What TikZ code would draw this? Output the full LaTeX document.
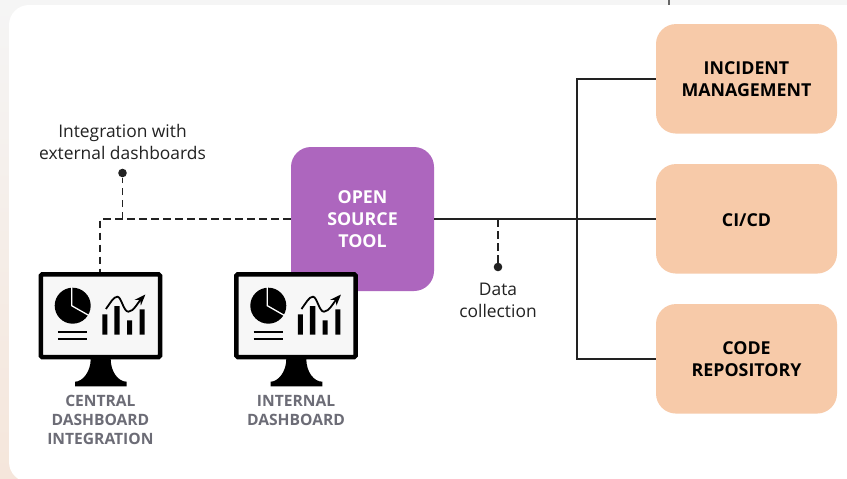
\documentclass[tikz,border=0pt]{standalone}
\usepackage{fontspec}
\setmainfont{Open Sans}
\usetikzlibrary{arrows.meta}
\definecolor{toolpurple}{HTML}{AD66BE}
\definecolor{boxpeach}{HTML}{F7CAA9}
\definecolor{capgray}{HTML}{6C6C76}
\definecolor{wirecol}{HTML}{222222}
\definecolor{backtop}{HTML}{F5F5F5}
\definecolor{backlow}{HTML}{F5E6DB}
\tikzset{
    >=Stealth,
    toolbox/.style={rectangle,fill=toolpurple,text=white,rounded corners=20pt,minimum width=143pt,minimum height=144pt,align=center,font=\fontsize{17.8}{22}\selectfont\bfseries,execute at begin node=\rule{0pt}{16pt}},
    source/.style={rectangle,fill=boxpeach,text=black,rounded corners=20pt,minimum width=181pt,minimum height=109.5pt,align=center,font=\fontsize{17.8}{22}\selectfont\bfseries,execute at begin node=\rule{0pt}{16pt}},
    screen/.style={rectangle,draw=black,fill=white!97!black,line width=4.5pt,rounded corners=1.5pt,minimum width=119.3pt,minimum height=82.8pt},
    note/.style={align=center,text=wirecol,font=\fontsize{17.4}{22}\selectfont},
    caption/.style={align=center,text=capgray,font=\fontsize{15.6}{19}\selectfont\bfseries},
    dot/.style={circle,fill=wirecol,inner sep=0pt,minimum size=8.6pt},
    wire/.style={line width=1.9pt,draw=wirecol},
    dashwire/.style={line width=1.9pt,draw=wirecol,dash pattern=on 7.5pt off 4.5pt},
}
% monitor icon, #1 is the screen node and #2 the middle of its top edge
\newcommand{\dashicon}[2]{
    \begin{scope}[shift={(#2)}]
        \fill[black] (-9.7,87) .. controls (-9.7,100) and (-18,109.7) .. (-25.4,109.7) -- (-25.4,114.3) -- (26.3,114.3) -- (26.3,109.7) .. controls (18,109.7) and (10.3,100) .. (10.3,87) -- cycle;
        \node[screen] (#1) at (0,43.7) {};
        \fill[black] (-27.7,33.7) circle (18);
        \draw[white,line width=1.3pt] (-28.7,15) -- (-28.7,33.7) -- (-11.5,43.5);
        \draw[black,line width=2pt] (-42.5,60) -- (-13,60) (-42.5,66.5) -- (-13,66.5);
        \fill[black] (1.9,42.3) rectangle (6.9,62.7) (13.9,34) rectangle (19.3,62.7) (26.6,48.3) rectangle (31.6,62.7) (39.3,37.3) rectangle (44.3,62.7);
        \draw[->,black,line width=1.8pt] (5.5,37) .. controls (10,31) and (13,24.7) .. (17,24.7) .. controls (21,24.7) and (23,39.7) .. (28,39.7) .. controls (33,39.7) and (38,30) .. (45,22.5);
    \end{scope}
}

\begin{document}
\begin{tikzpicture}[x=1pt,y=-1pt]
    \useasboundingbox (0,0) rectangle (847,479);
    \shade[top color=backtop,bottom color=backlow] (0,0) rectangle (847,479);
    \fill[white,rounded corners=20pt] (9,5) rectangle (867,482);

    \node[toolbox] (tool) at (362.5,219) {OPEN\\SOURCE\\TOOL};
    \node[source] (incident) at (746.5,78.8) {INCIDENT\\MANAGEMENT};
    \node[source] (cicd) at (746.5,218.8) {CI/CD};
    \node[source] (repo) at (746.5,358.8) {CODE\\REPOSITORY};

    \coordinate (busup) at (577,78.8);
    \coordinate (busdown) at (577,358.8);
    \coordinate (collect) at (498,219);
    \coordinate (corner) at (100.4,219);
    \coordinate (branch) at (122.5,219);
    \coordinate (topline) at (669,0);
    \coordinate (topend) at (669,5);

    \draw[wire] (tool.east |- cicd.west) -- (cicd.west);
    \draw[wire] (incident.west) -- (busup) -- (busdown) -- (repo.west);
    \draw[draw=black!60,line width=1.4pt] (topline) -- (topend);

    \node[dot] (datadot) at (498,267) {};
    \node[note,anchor=north] (datatext) at (498,280) {Data\\collection};
    \draw[dashwire] (collect) -- (datadot);

    \node[dot] (extdot) at (122.5,173) {};
    \node[note,anchor=south] (exttext) at (122.5,163) {Integration with\\external dashboards};
    \draw[dashwire] (tool.west |- corner) -- (corner) -- (100.4,272);
    \draw[dashwire] (branch) -- (extdot);

    \dashicon{central}{100.4,272}
    \dashicon{internal}{296,272}

    \node[caption,anchor=north] (centraltext) at (100.4,392) {CENTRAL\\DASHBOARD\\INTEGRATION};
    \node[caption,anchor=north] (internaltext) at (296,392) {INTERNAL\\DASHBOARD};
\end{tikzpicture}
\end{document}
